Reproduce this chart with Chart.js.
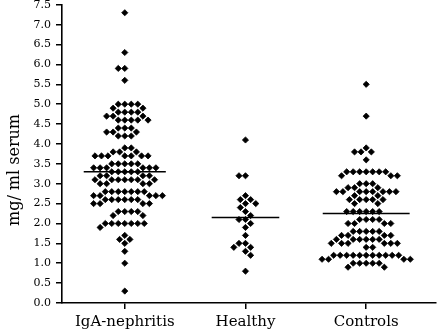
<!DOCTYPE html>
<html>
<head>
<meta charset="utf-8">
<script src="https://cdn.jsdelivr.net/npm/chart.js@4"></script>
<style>
html,body{margin:0;padding:0;background:#fff;}
#wrap{width:441px;height:332px;}
</style>
</head>
<body>
<div id="wrap"><canvas id="c" width="441" height="332"></canvas></div>
<script>
// ---- data ----
const categories = ['IgA-nephritis', 'Healthy', 'Controls'];

const igaValues = [
  7.3, 6.3, 5.9, 5.9, 5.6,
  5.0, 5.0, 5.0, 5.0, 4.9, 4.9, 4.8, 4.8, 4.8, 4.8,
  4.7, 4.7, 4.7, 4.6, 4.6, 4.6, 4.6, 4.6,
  4.4, 4.4, 4.4, 4.3, 4.3, 4.3, 4.2, 4.2, 4.2,
  3.9, 3.9, 3.8, 3.8, 3.8,
  3.7, 3.7, 3.7, 3.7, 3.7, 3.7, 3.7,
  3.5, 3.5, 3.5, 3.5, 3.5,
  3.4, 3.4, 3.4, 3.4, 3.4, 3.4,
  3.3, 3.3, 3.3, 3.3, 3.3,
  3.2, 3.2, 3.2, 3.2,
  3.1, 3.1, 3.1, 3.1, 3.1, 3.1, 3.1,
  3.0, 3.0, 3.0, 3.0,
  2.8, 2.8, 2.8, 2.8, 2.8, 2.8, 2.8,
  2.7, 2.7, 2.7, 2.7, 2.7,
  2.6, 2.6, 2.6, 2.6, 2.6, 2.6,
  2.5, 2.5, 2.5, 2.5,
  2.3, 2.3, 2.3, 2.3, 2.2, 2.2,
  2.0, 2.0, 2.0, 2.0, 2.0, 2.0, 2.0,
  1.9, 1.7, 1.6, 1.6, 1.5, 1.3, 1.0, 0.3
];

const healthyValues = [
  4.1, 3.2, 3.2, 2.7, 2.6, 2.6, 2.5, 2.5, 2.4, 2.3, 2.2,
  2.1, 2.1, 2.0, 1.9, 1.7, 1.5, 1.5, 1.4, 1.4, 1.3, 1.2, 0.8
];

const controlValues = [
  5.5, 4.7, 3.9, 3.8, 3.8, 3.8, 3.6,
  3.3, 3.3, 3.3, 3.3, 3.3, 3.3, 3.3,
  3.2, 3.2, 3.2, 3.0, 3.0, 3.0, 2.9, 2.9, 2.9,
  2.8, 2.8, 2.8, 2.8, 2.8, 2.8, 2.8, 2.8,
  2.7, 2.7, 2.6, 2.6, 2.6, 2.6, 2.6, 2.5, 2.5,
  2.3, 2.3, 2.3, 2.3, 2.3, 2.3,
  2.1, 2.1, 2.1, 2.1, 2.0, 2.0, 2.0, 2.0,
  1.8, 1.8, 1.8, 1.8, 1.8, 1.7, 1.7, 1.7, 1.7,
  1.6, 1.6, 1.6, 1.6, 1.6, 1.6, 1.5, 1.5, 1.5, 1.5, 1.5, 1.5,
  1.4, 1.4,
  1.2, 1.2, 1.2, 1.2, 1.2, 1.2, 1.2, 1.2, 1.2, 1.2, 1.2,
  1.1, 1.1, 1.1, 1.1, 1.0, 1.0, 1.0, 1.0, 1.0, 0.9, 0.9
];

const groupValues = [igaValues, healthyValues, controlValues];
const groupMeans = [3.3, 2.15, 2.25];
const meanHalfWidths = [0.34, 0.28, 0.36];   // style: length of the mean bars
const yMin = 0, yMax = 7.5, yStep = 0.5;

// ---- chart ----
const FONT = 'DejaVu Serif';
const BLACK = '#000';

const pointDatasets = groupValues.map((vals, gi) => ({
  type: 'scatter',
  label: categories[gi],
  data: vals.map(v => ({ x: gi + 1, y: v })),
  pointStyle: 'rectRot',
  pointRadius: 3.1,
  pointBorderWidth: 0.8,
  backgroundColor: BLACK,
  borderColor: BLACK,
  order: 2
}));

const meanDatasets = groupMeans.map((m, gi) => ({
  type: 'line',
  label: categories[gi] + ' mean',
  data: [{ x: gi + 1 - meanHalfWidths[gi], y: m }, { x: gi + 1 + meanHalfWidths[gi], y: m }],
  borderColor: BLACK,
  borderWidth: 1.6,
  pointRadius: 0,
  fill: false,
  order: 0
}));

const yTitlePlugin = {
  id: 'yTitle',
  afterDraw(chart) {
    const ctx = chart.ctx;
    ctx.save();
    ctx.translate(15, 170);
    ctx.rotate(-Math.PI / 2);
    ctx.font = '16px "' + FONT + '"';
    ctx.fillStyle = BLACK;
    ctx.textAlign = 'center';
    ctx.textBaseline = 'middle';
    ctx.fillText('mg/ ml serum', 0, 0);
    ctx.restore();
  }
};

const chart = new Chart(document.getElementById('c'), {
  data: { datasets: [...meanDatasets, ...pointDatasets] },
  options: {
    responsive: false,
    animation: false,
    events: [],
    layout: { padding: { top: 4, right: 0, bottom: 0, left: 0 } },
    plugins: { legend: { display: false }, tooltip: { enabled: false } },
    scales: {
      x: {
        type: 'linear',
        min: 0.48,
        max: 3.58,
        afterBuildTicks(s) { s.ticks = categories.map((c, i) => ({ value: i + 1 })); },
        afterFit(s) { s.height = 29; s.paddingLeft = 0; s.paddingRight = 0; },
        ticks: {
          autoSkip: false,
          maxRotation: 0,
          padding: 4,
          color: BLACK,
          font: { family: FONT, size: 15 },
          callback: (v) => categories[Math.round(v) - 1]
        },
        grid: { drawOnChartArea: false, drawTicks: true, tickLength: 6, color: BLACK, lineWidth: 1.5 },
        border: { color: BLACK, width: 1.6 }
      },
      y: {
        type: 'linear',
        min: yMin,
        max: yMax,
        afterFit(s) { s.width = 62; s.paddingTop = 0; s.paddingBottom = 0; },
        ticks: {
          stepSize: yStep,
          autoSkip: false,
          padding: 5,
          color: BLACK,
          font: { family: FONT, size: 11 },
          callback: (v) => Number(v).toFixed(1)
        },
        grid: { drawOnChartArea: false, drawTicks: true, tickLength: 6, color: BLACK, lineWidth: 1.5 },
        border: { color: BLACK, width: 1.6 }
      }
    }
  },
  plugins: [yTitlePlugin]
});

// ---- beeswarm layout of the points, computed through the chart's own scales ----
function swarm(values, gi, xs, ys, d) {
  const cx = xs.getPixelForValue(gi + 1);
  const items = values.map((v, i) => ({ i, v, py: ys.getPixelForValue(v) }))
                      .sort((a, b) => a.py - b.py);
  const placed = [];
  let flip = 1;
  items.forEach(it => {
    const near = placed.filter(p => Math.abs(p.py - it.py) < d);
    const cands = [0];
    near.forEach(p => {
      const dx = Math.sqrt(d * d - (p.py - it.py) * (p.py - it.py));
      cands.push(p.dx + dx, p.dx - dx);
    });
    const ok = cands.filter(c => near.every(p => {
      const ddx = p.dx - c, ddy = p.py - it.py;
      return ddx * ddx + ddy * ddy >= d * d - 0.01;
    }));
    ok.sort((a, b) => {
      const diff = Math.abs(a) - Math.abs(b);
      if (Math.abs(diff) > 0.01) return diff;
      return flip * (a - b);
    });
    it.dx = ok[0];
    if (Math.abs(it.dx) > 0.01) flip = -flip;
    placed.push(it);
  });
  const out = new Array(values.length);
  placed.forEach(p => { out[p.i] = { x: xs.getValueForPixel(cx + p.dx), y: p.v }; });
  return out;
}

const xs = chart.scales.x, ys = chart.scales.y;
groupValues.forEach((vals, gi) => {
  chart.data.datasets[meanDatasets.length + gi].data = swarm(vals, gi, xs, ys, 6.5);
});
chart.update('none');
</script>
</body>
</html>
